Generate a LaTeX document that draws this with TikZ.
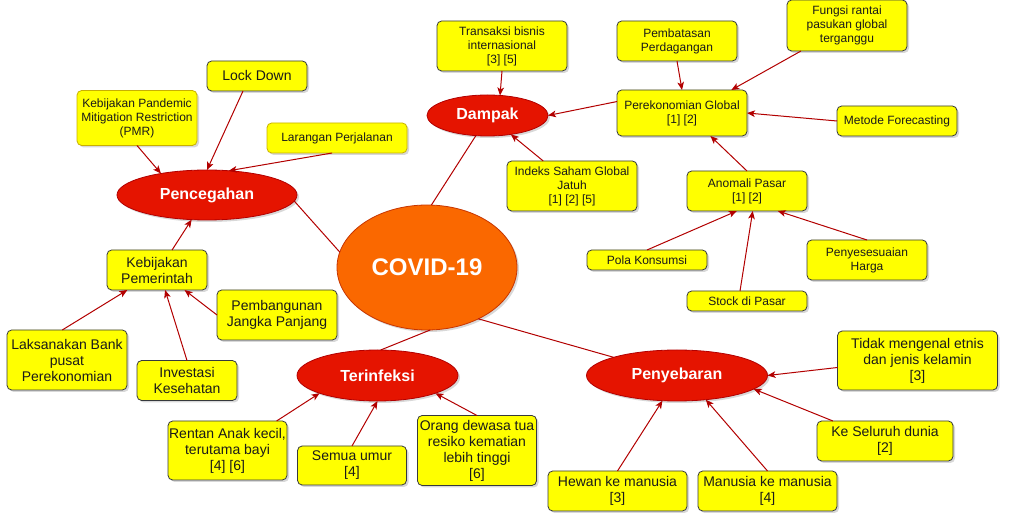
\documentclass[tikz,border=0pt]{standalone}
\usepackage{fontspec}
\setmainfont{Liberation Sans}
\usetikzlibrary{shapes.geometric,arrows.meta,shadows}
\definecolor{yel}{HTML}{FFFF00}
\definecolor{bdr}{HTML}{36393D}
\definecolor{gold}{HTML}{C8B000}
\definecolor{txt}{HTML}{1A1A1A}
\definecolor{redf}{HTML}{E51400}
\definecolor{redb}{HTML}{B20000}
\definecolor{orf}{HTML}{FA6800}
\definecolor{orb}{HTML}{C73500}
\definecolor{arrc}{HTML}{B20000}
\begin{document}
\begin{tikzpicture}[x=0.75pt,y=-0.75pt,
  shd/.style={drop shadow={shadow xshift=1.5pt,shadow yshift=-1.5pt,opacity=0.22,fill=black!70}},
  wh/.style 2 args={minimum width=#1*0.75pt,minimum height=#2*0.75pt},
  box/.style={rectangle,draw=bdr,fill=yel,line width=0.6pt,rounded corners=3.5pt,align=center,
    inner sep=0pt,outer sep=0pt,text=txt,shd},
  sm/.style={box,font=\fontsize{9}{10.5}\selectfont},
  md/.style={box,font=\fontsize{10.5}{12}\selectfont},
  goldb/.style={draw=gold},
  ell/.style={ellipse,draw=redb,fill=redf,line width=0.6pt,inner sep=0pt,outer sep=0pt,text=white,
    font=\bfseries\fontsize{12}{14}\selectfont,shd},
  arr/.style={draw=arrc,line width=0.75pt,-{Stealth[length=6pt,width=5pt,inset=1.5pt]}},
  lnk/.style={draw=arrc,line width=0.75pt}]
\useasboundingbox (0,0) rectangle (1010,523);

% central
\node[ellipse,draw=orb,fill=orf,line width=0.6pt,inner sep=0pt,outer sep=0pt,text=white,
  font=\bfseries\fontsize{18}{20}\selectfont,wh={180}{125},shd] (covid) at (427,267.5) {COVID-19};

% Pencegahan branch
\node[ell,wh={180}{50}] (penc) at (207,195) {Pencegahan};
\node[sm,goldb,wh={120}{55}] (pmr) at (137,118) {Kebijakan Pandemic\\Mitigation Restriction\\(PMR)};
\node[md,wh={100}{30}] (lock) at (257,76) {Lock Down};
\node[sm,goldb,wh={140}{30}] (lar) at (337,138) {Larangan Perjalanan};
\node[md,wh={100}{40}] (keb) at (157,270) {Kebijakan\\Pemerintah};
\node[md,wh={120}{50}] (pemb) at (277,315) {Pembangunan\\Jangka Panjang};
\node[md,wh={120}{60}] (laks) at (67,360) {Laksanakan Bank\\pusat\\Perekonomian};
\node[md,wh={100}{40}] (inv) at (187,380.5) {Investasi\\Kesehatan};

% Dampak branch
\node[ell,wh={121}{41}] (dampak) at (487.5,115.5) {Dampak};
\node[sm,wh={130}{50}] (trans) at (502,46) {Transaksi bisnis\\internasional\\{}[3] [5]};
\node[sm,wh={130}{50}] (indeks) at (572,186) {Indeks Saham Global\\Jatuh\\{}[1] [2] [5]};
\node[sm,wh={130}{46}] (perek) at (682,113) {Perekonomian Global\\{}[1] [2]};
\node[sm,wh={120}{40}] (pembat) at (677,41) {Pembatasan\\Perdagangan};
\node[sm,wh={120}{51}] (fungsi) at (847,25.5) {Fungsi rantai\\pasukan global\\terganggu};
\node[sm,wh={120}{30}] (metode) at (897,121) {Metode Forecasting};
\node[sm,wh={120}{40}] (anom) at (747,191) {Anomali Pasar\\{}[1] [2]};
\node[sm,wh={120}{20}] (pola) at (647,260) {Pola Konsumsi};
\node[sm,wh={120}{20}] (stock) at (747,301) {Stock di Pasar};
\node[sm,wh={120}{40}] (peny) at (867,260) {Penyesesuaian\\Harga};

% Penyebaran branch
\node[ell,wh={181}{51}] (penyeb) at (677,375.5) {Penyebaran};
\node[md,wh={160}{59}] (tidak) at (917.5,360.5) {Tidak mengenal etnis\\dan jenis kelamin\\{}[3]};
\node[md,wh={136}{40}] (ke) at (885,441) {Ke Seluruh dunia\\{}[2]};
\node[md,wh={139}{40}] (hewan) at (617.5,491) {Hewan ke manusia\\{}[3]};
\node[md,wh={139}{40}] (manusia) at (767.5,491) {Manusia ke manusia\\{}[4]};

% Terinfeksi branch
\node[ell,wh={161}{51}] (terinf) at (377.5,375.5) {Terinfeksi};
\node[md,wh={119}{59}] (rentan) at (227.5,450.5) {Rentan Anak kecil,\\terutama bayi\\{}[4] [6]};
\node[md,wh={109}{39}] (semua) at (352,465.5) {Semua umur\\{}[4]};
\node[md,wh={119}{70}] (orang) at (477,450.5) {Orang dewasa tua\\resiko kematian\\lebih tinggi\\{}[6]};

% connectors
\draw[arr] (pmr.-90) -- (penc.155);
\draw[arr] (lock.227) -- (penc.90);
\draw[arr] (lar.252) -- (penc.48);
\draw[arr] (keb.53) -- (penc.238);
\draw[arr] (laks.99) -- (keb.214);
\draw[arr] (inv.90) -- (keb.292);
\draw[arr] (pemb.180) -- (keb.324);
\draw[lnk] (penc.356) -- (covid.170);
\draw[lnk] (dampak.240) -- (covid.86);
\draw[lnk] (terinf.83) -- (covid.273);
\draw[lnk] (penyeb.164) -- (covid.315);
\draw[arr] (trans.270) -- (dampak.58);
\draw[arr] (indeks.139) -- (dampak.321);
\draw[arr] (perek.170) -- (dampak.0);
\draw[arr] (pembat.270) -- (perek.90);
\draw[arr] (fungsi.209) -- (perek.25);
\draw[arr] (metode.180) -- (perek.0);
\draw[arr] (anom.90) -- (perek.321);
\draw[arr] (pola.90) -- (anom.243);
\draw[arr] (stock.125) -- (anom.286);
\draw[arr] (peny.90) -- (anom.327);
\draw[arr] (tidak.185) -- (penyeb.0);
\draw[arr] (ke.159) -- (penyeb.350);
\draw[arr] (hewan.90) -- (penyeb.240);
\draw[arr] (manusia.90) -- (penyeb.320);
\draw[arr] (rentan.31) -- (terinf.197);
\draw[arr] (semua.90) -- (terinf.270);
\draw[arr] (orang.90) -- (terinf.343);
\end{tikzpicture}
\end{document}
